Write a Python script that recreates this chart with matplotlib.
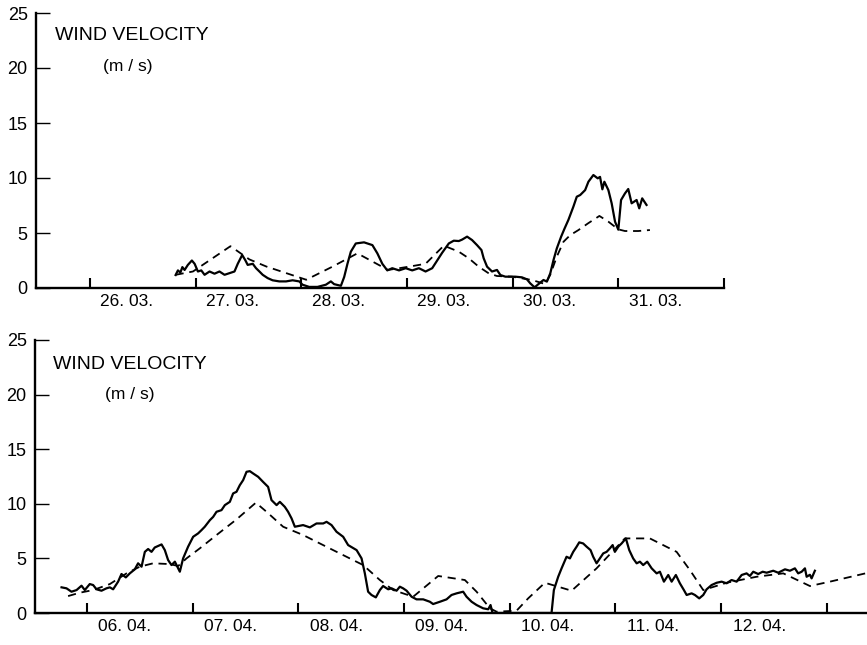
import matplotlib
matplotlib.use("Agg")
import matplotlib.pyplot as plt
from matplotlib.ticker import FixedLocator, FixedFormatter

plt.rcParams['font.family'] = ['Liberation Sans', 'DejaVu Sans']

# ---- March record (time in days of month, velocity in m/s) ----
mar_meas_t = [26.811, 26.833, 26.856, 26.875, 26.896, 26.927, 26.965, 26.991, 27.022, 27.054,
              27.085, 27.132, 27.179, 27.226, 27.274, 27.321, 27.368, 27.399, 27.441, 27.472,
              27.493, 27.541, 27.572, 27.604, 27.635, 27.682, 27.729, 27.792, 27.856, 27.918,
              27.981, 28.012, 28.075, 28.154, 28.233, 28.280, 28.311, 28.375, 28.406, 28.437,
              28.469, 28.516, 28.594, 28.673, 28.720, 28.767, 28.814, 28.861, 28.925, 28.988,
              29.050, 29.113, 29.176, 29.239, 29.286, 29.333, 29.396, 29.443, 29.491, 29.522,
              29.569, 29.616, 29.663, 29.705, 29.726, 29.758, 29.805, 29.852, 29.884, 29.931,
              30.025, 30.088, 30.135, 30.167, 30.208, 30.245, 30.292, 30.324, 30.356, 30.387,
              30.418, 30.459, 30.491, 30.528, 30.575, 30.607, 30.639, 30.686, 30.717, 30.764,
              30.805, 30.827, 30.849, 30.868, 30.906, 30.937, 30.969, 31.000, 31.026, 31.063,
              31.094, 31.126, 31.173, 31.198, 31.226, 31.267]
mar_meas_v = [1.18, 1.6, 1.4, 1.9, 1.64, 2.1, 2.5, 2.2, 1.5, 1.6,
              1.2, 1.5, 1.3, 1.5, 1.2, 1.35, 1.5, 2.2, 3.0, 2.5,
              2.1, 2.2, 1.8, 1.5, 1.2, 0.9, 0.7, 0.6, 0.6, 0.7,
              0.6, 0.3, 0.1, 0.1, 0.3, 0.6, 0.35, 0.2, 1.0, 2.2,
              3.3, 4.05, 4.15, 3.9, 3.15, 2.2, 1.6, 1.8, 1.6, 1.8,
              1.6, 1.8, 1.5, 1.8, 2.5, 3.2, 4.05, 4.3, 4.27, 4.4,
              4.67, 4.36, 3.9, 3.45, 2.7, 1.94, 1.5, 1.64, 1.18, 1.03,
              1.03, 0.97, 0.79, 0.42, 0.06, 0.36, 0.73, 0.58, 1.33, 2.55,
              3.6, 4.67, 5.4, 6.2, 7.4, 8.3, 8.45, 8.9, 9.66, 10.27,
              9.97, 10.1, 8.97, 9.66, 8.9, 7.7, 6.03, 5.3, 8.0, 8.6,
              9.0, 7.7, 8.0, 7.24, 8.15, 7.55]

mar_calc_t = [26.811, 26.975, 27.330, 27.509, 27.670, 28.047, 28.295, 28.531, 28.821, 29.019,
              29.176, 29.349, 29.491, 29.585, 29.679, 29.774, 29.852, 29.993, 30.182, 30.308,
              30.355, 30.418, 30.481, 30.544, 30.623, 30.717, 30.821, 30.906, 31.000, 31.063,
              31.189, 31.299]
mar_calc_v = [1.2, 1.5, 3.8, 2.6, 1.95, 0.75, 1.94, 3.15, 1.64, 1.94,
              2.2, 3.85, 3.3, 2.7, 1.94, 1.33, 1.09, 1.03, 0.73, 0.36,
              1.18, 2.85, 4.2, 4.8, 5.27, 5.9, 6.55, 6.03, 5.33, 5.18,
              5.18, 5.27]

# ---- April record ----
apr_meas_t = [5.761, 5.808, 5.855, 5.903, 5.950, 5.981, 6.028, 6.060, 6.092, 6.139,
              6.186, 6.218, 6.249, 6.296, 6.328, 6.369, 6.407, 6.454, 6.485, 6.518,
              6.549, 6.580, 6.612, 6.643, 6.707, 6.738, 6.769, 6.801, 6.833, 6.880,
              6.911, 6.958, 7.006, 7.053, 7.085, 7.116, 7.164, 7.195, 7.227, 7.274,
              7.306, 7.353, 7.384, 7.416, 7.447, 7.479, 7.511, 7.542, 7.573, 7.621,
              7.668, 7.715, 7.747, 7.795, 7.826, 7.873, 7.904, 7.937, 7.968, 8.046,
              8.110, 8.173, 8.236, 8.268, 8.315, 8.362, 8.425, 8.472, 8.552, 8.599,
              8.630, 8.661, 8.693, 8.734, 8.772, 8.803, 8.851, 8.883, 8.930, 8.961,
              8.992, 9.025, 9.072, 9.119, 9.182, 9.245, 9.276, 9.340, 9.403, 9.450,
              9.498, 9.560, 9.592, 9.640, 9.687, 9.749, 9.797, 9.819, 9.838, 10.396,
              10.418, 10.459, 10.491, 10.538, 10.570, 10.601, 10.633, 10.658, 10.695, 10.728,
              10.765, 10.790, 10.822, 10.853, 10.885, 10.917, 10.948, 10.974, 10.995, 11.027,
              11.059, 11.099, 11.131, 11.168, 11.201, 11.232, 11.263, 11.301, 11.343, 11.390,
              11.421, 11.459, 11.500, 11.532, 11.572, 11.610, 11.648, 11.674, 11.721, 11.752,
              11.793, 11.831, 11.863, 11.910, 11.958, 12.005, 12.052, 12.099, 12.147, 12.194,
              12.241, 12.272, 12.304, 12.351, 12.393, 12.431, 12.493, 12.540, 12.604, 12.651,
              12.698, 12.729, 12.762, 12.793, 12.809, 12.840, 12.856, 12.887]
apr_meas_v = [2.35, 2.26, 1.95, 2.1, 2.5, 2.1, 2.65, 2.56, 2.17, 2.04,
              2.26, 2.35, 2.17, 2.87, 3.57, 3.26, 3.63, 4.0, 4.55, 4.24,
              5.6, 5.86, 5.6, 6.0, 6.28, 5.76, 4.85, 4.39, 4.7, 3.78,
              5.0, 6.07, 6.98, 7.29, 7.59, 7.9, 8.5, 8.8, 9.27, 9.42,
              9.88, 10.18, 10.95, 11.1, 11.7, 12.17, 12.93, 12.99, 12.78, 12.47,
              12.0, 11.55, 10.34, 9.88, 10.18, 9.72, 9.27, 8.66, 7.9, 8.05,
              7.84, 8.2, 8.2, 8.35, 8.05, 7.44, 6.98, 6.22, 5.76, 5.0,
              3.63, 1.95, 1.65, 1.43, 2.1, 2.47, 2.17, 2.26, 2.04, 2.41,
              2.26, 2.04, 1.49, 1.25, 1.25, 1.03, 0.82, 1.03, 1.25, 1.65,
              1.8, 1.95, 1.49, 1.03, 0.73, 0.43, 0.34, 0.73, 0.0, 0.0,
              2.1, 3.32, 4.09, 5.15, 5.0, 5.6, 6.07, 6.47, 6.37, 6.07,
              5.76, 5.15, 4.55, 5.0, 5.46, 5.6, 5.92, 6.22, 5.6, 6.07,
              6.37, 6.83, 5.76, 5.0, 4.55, 4.7, 4.39, 4.7, 4.09, 3.63,
              3.78, 2.87, 3.48, 2.87, 3.48, 2.72, 2.1, 1.65, 1.8, 1.65,
              1.34, 1.65, 2.17, 2.56, 2.77, 2.87, 2.72, 3.02, 2.87, 3.48,
              3.63, 3.39, 3.78, 3.57, 3.78, 3.69, 3.87, 3.69, 4.0, 3.87,
              4.09, 3.63, 3.78, 4.09, 3.32, 3.5, 3.17, 3.87]

apr_calc_t = [5.823, 5.934, 6.060, 6.218, 6.376, 6.501, 6.627, 6.785, 6.864, 6.943,
              7.069, 7.227, 7.416, 7.599, 7.700, 7.857, 8.046, 8.330, 8.614, 8.772,
              8.898, 9.087, 9.324, 9.576, 9.687, 9.813, 9.876, 10.065, 10.175, 10.333,
              10.586, 10.822, 11.090, 11.326, 11.579, 11.705, 11.831, 12.052, 12.336, 12.588,
              12.840, 13.029, 13.392]
apr_calc_v = [1.55, 1.86, 2.1, 2.65, 3.63, 4.24, 4.55, 4.48, 4.3, 5.0,
              5.92, 7.14, 8.57, 10.1, 9.27, 7.9, 7.14, 5.76, 4.39, 3.02,
              2.1, 1.49, 3.39, 3.02, 1.95, 0.43, 0.12, 0.21, 1.34, 2.77,
              2.04, 4.09, 6.83, 6.83, 5.6, 3.93, 2.1, 2.77, 3.32, 3.63,
              2.47, 2.87, 3.69]

mar_days = [26, 27, 28, 29, 30, 31, 32]
mar_labels = ["26. 03.", "27. 03.", "28. 03.", "29. 03.", "30. 03.", "31. 03."]
apr_days = [6, 7, 8, 9, 10, 11, 12, 13]
apr_labels = ["06. 04.", "07. 04.", "08. 04.", "09. 04.", "10. 04.", "11. 04.", "12. 04."]
y_ticks = [0, 5, 10, 15, 20, 25]

W, H = 867, 645
fig = plt.figure(figsize=(W / 100, H / 100), dpi=100)
fig.patch.set_facecolor("white")


def px_axes(left, right, top, bottom):
    return fig.add_axes([left / W, 1 - bottom / H, (right - left) / W, (bottom - top) / H])


def style(ax, xlim, days, labels, label_offset):
    ax.set_xlim(*xlim)
    ax.set_ylim(0, 25)
    for s in ("top", "right"):
        ax.spines[s].set_visible(False)
    for s in ("left", "bottom"):
        ax.spines[s].set_linewidth(1.7)
        ax.spines[s].set_color("black")
    ax.set_yticks(y_ticks)
    ax.set_yticklabels([str(v) for v in y_ticks])
    ax.tick_params(axis="y", direction="in", length=10, width=1.0, pad=6, labelsize=13)
    ax.xaxis.set_major_locator(FixedLocator(days))
    ax.xaxis.set_major_formatter(FixedFormatter([""] * len(days)))
    ax.xaxis.set_minor_locator(FixedLocator([d + label_offset for d in days[:len(labels)]]))
    ax.xaxis.set_minor_formatter(FixedFormatter(labels))
    ax.tick_params(axis="x", which="major", direction="in", length=7, width=1.5)
    ax.tick_params(axis="x", which="minor", direction="in", length=0, pad=4, labelsize=12.5)
    ax.set_facecolor("none")


def draw(ax, mt, mv, ct, cv):
    ax.plot(mt, mv, color="black", lw=1.6, solid_joinstyle="round")
    ax.plot(ct, cv, color="black", lw=1.3, linestyle=(0, (4.5, 3.2)))


ax1 = px_axes(36, 724, 13, 288)
style(ax1, (25.49, 32.0), mar_days, mar_labels, 0.35)
draw(ax1, mar_meas_t, mar_meas_v, mar_calc_t, mar_calc_v)

ax2 = px_axes(35, 867, 340, 613)
style(ax2, (5.51, 13.38), apr_days, apr_labels, 0.36)
draw(ax2, apr_meas_t, apr_meas_v, apr_calc_t, apr_calc_v)

for ax, (xt, yt, xu, yu) in ((ax1, (55, 36, 103, 67)), (ax2, (53, 364, 105, 395))):
    fig.text(xt / W, 1 - yt / H, "WIND VELOCITY", fontsize=14, va="center", ha="left")
    fig.text(xu / W, 1 - yu / H, "(m / s)", fontsize=12.5, va="center", ha="left")

fig.savefig("out.png", dpi=100, facecolor="white")
